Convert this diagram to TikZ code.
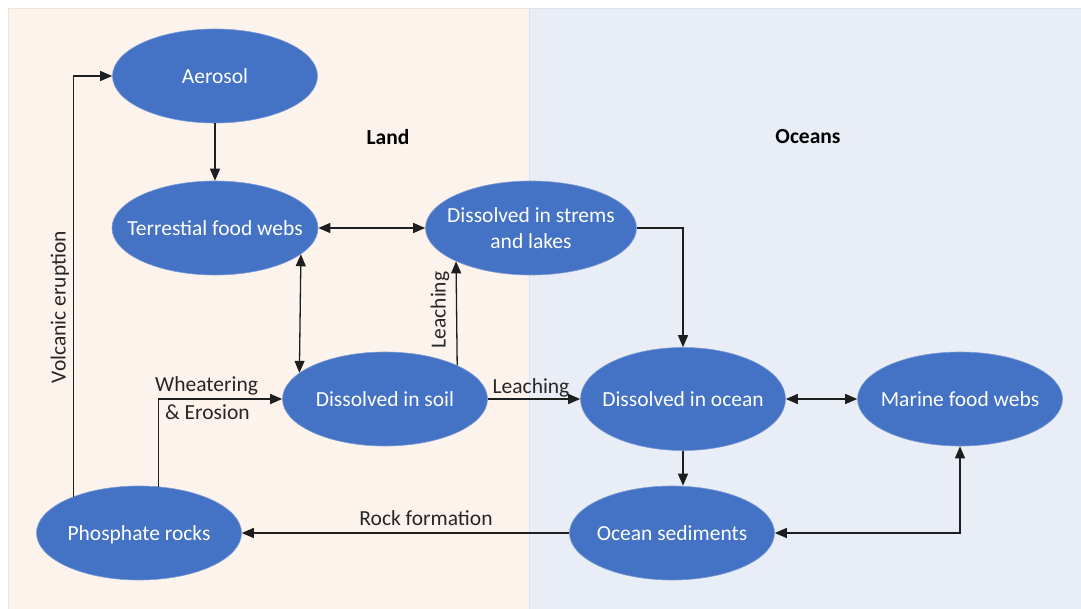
\documentclass[tikz,border=0pt]{standalone}
\usepackage{fontspec}
\setmainfont{Carlito}
\usetikzlibrary{shapes.geometric,arrows.meta}
\definecolor{nodeblue}{HTML}{4472C4}
\definecolor{landbg}{HTML}{FCF3ED}
\definecolor{landedge}{HTML}{F4E2D6}
\definecolor{oceanbg}{HTML}{E9EDF6}
\definecolor{oceanedge}{HTML}{DCE1EC}
\definecolor{linecol}{HTML}{1E1E1E}
\newcommand{\ctxt}[1]{\makebox[0pt]{\raisebox{-2pt}[\height][\depth]{\begin{tabular}{@{}c@{}}#1\end{tabular}}}}
\tikzset{
  blob/.style={ellipse, fill=nodeblue, draw=nodeblue!70!white, line width=0.6pt,
    minimum width=205pt, minimum height=94pt, inner sep=0pt, text=white,
    font=\fontsize{21.5}{26}\selectfont},
  conn/.style={draw=linecol, line width=1.3pt, -{Triangle[length=12pt,width=10pt]}},
  biconn/.style={draw=linecol, line width=1.3pt, {Triangle[length=12pt,width=10pt]}-{Triangle[length=12pt,width=10pt]}},
  lbl/.style={font=\fontsize{21.5}{26}\selectfont, text=black!85, inner sep=0pt},
  title/.style={font=\bfseries\fontsize{21.5}{26}\selectfont, text=black, inner sep=0pt}
}
\begin{document}
\begin{tikzpicture}[x=1pt,y=-1pt]
\useasboundingbox (0,0) rectangle (1081,609);
\fill[white] (0,0) rectangle (1081,609);
\filldraw[fill=landbg, draw=landedge, line width=0.8pt] (8,8) rectangle (529,612);
\filldraw[fill=oceanbg, draw=oceanedge, line width=0.8pt] (529,8) rectangle (1084,612);

\node[title] (land) at (388,137) {Land};
\node[title] (oceans) at (808,137) {Oceans};

\node[blob] (aer) at (215,76) {\ctxt{Aerosol}};
\node[blob, minimum width=206pt] (terr) at (215,228) {\ctxt{Terrestial food webs}};
\node[blob, minimum width=211pt] (strm) at (531,228) {\ctxt{Dissolved in strems\\and lakes}};
\node[blob] (soil) at (385,399) {\ctxt{Dissolved in soil}};
\node[blob, minimum height=103pt] (ocean) at (683,399) {\ctxt{Dissolved in ocean}};
\node[blob] (marine) at (960,399) {\ctxt{Marine food webs}};
\node[blob] (sed) at (672,533) {\ctxt{Ocean sediments}};
\node[blob] (phos) at (139,533) {\ctxt{Phosphate rocks}};

% connectors
\draw[conn] (phos.151.5) |- (aer.west);
\draw[conn] (aer.south) -- (terr.north);
\draw[biconn] (terr.east) -- (strm.west);
\draw[biconn] (terr.-17.9) -- (soil.163.2);
\draw[conn] (soil.25.6) -- (strm.-156.3);
\draw[conn] (strm.east) -| (ocean.north);
\draw[conn] (soil.east) -- (ocean.west);
\draw[biconn] (ocean.east) -- (marine.west);
\draw[conn] (ocean.south) -- (ocean.south |- sed.north);
\draw[biconn] (sed.east) -| (marine.south);
\draw[conn] (sed.west) -- (phos.east);
\draw[conn] (phos.67.6) |- (soil.west);

% labels
\node[lbl, rotate=90] (volc) at (60,307) {Volcanic eruption};
\node[lbl, rotate=90] (leach1) at (440,310) {Leaching};
\node[lbl] (leach2) at (531,388) {Leaching};
\node[lbl, anchor=west] (weath) at (155,386) {Wheatering};
\node[lbl, anchor=west] (eros) at (165,412) {\& Erosion};
\node[lbl] (rock) at (426,518) {Rock formation};
\end{tikzpicture}
\end{document}
